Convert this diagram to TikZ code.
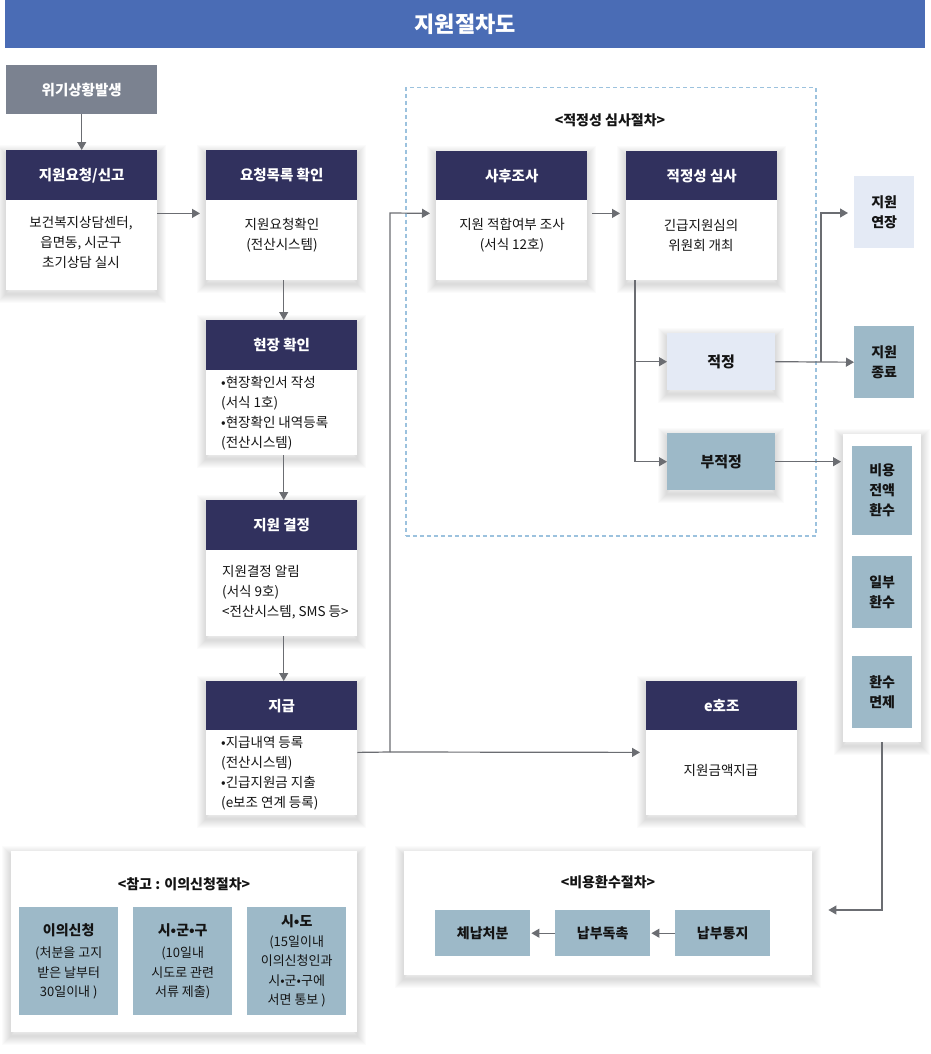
\documentclass[tikz,border=0pt]{standalone}
\usepackage{fontspec}
\setmainfont{Noto Sans CJK KR}
\usetikzlibrary{arrows.meta,calc}
\definecolor{titleblue}{HTML}{4A6CB5}
\definecolor{navy}{HTML}{31315E}
\definecolor{crisisgray}{HTML}{7B8290}
\definecolor{steel}{HTML}{9DB9C8}
\definecolor{pale}{HTML}{E4EAF5}
\definecolor{dashblue}{HTML}{9CC2DE}
\definecolor{linegray}{HTML}{6B6D72}
\definecolor{txt}{HTML}{141414}
\tikzset{
  x=1pt, y=-1pt,
  shl/.style={preaction={draw=black, draw opacity=0.016, line width=#1, transform canvas={yshift=-4pt}}},
  shd/.style={shl=18pt, shl=16pt, shl=14pt, shl=12pt, shl=10pt, shl=8pt, shl=6pt, shl=4pt, shl=2pt},
  hdr/.style={anchor=north west, fill=navy, text=white, inner sep=0pt,
    font=\fontsize{14.5}{17}\selectfont\bfseries, minimum width=151pt, minimum height=50pt},
  bodybox/.style={anchor=north west, fill=white, inner sep=0pt, minimum width=151pt, shd},
  btxt/.style={text=txt, inner sep=0pt, font=\fontsize{13.5}{20}\selectfont},
  lefttxt/.style={btxt, anchor=west, align=left},
  ctxt/.style={btxt, align=center},
  sbox/.style={anchor=north west, fill=steel, inner sep=0pt, text=txt, align=center,
    font=\fontsize{14}{20}\selectfont\bfseries},
  pbox/.style={sbox, fill=pale},
  panel/.style={anchor=north west, fill=white, inner sep=0pt, shd},
  ptitle/.style={text=txt, inner sep=0pt, font=\fontsize{14}{17}\selectfont\bfseries},
  conn/.style={draw=linegray, line width=1.2pt, -{Triangle[length=8pt,width=9pt]}},
  plain/.style={draw=linegray, line width=1.2pt},
}
\begin{document}
\begin{tikzpicture}
\useasboundingbox (0,0) rectangle (930,1054);
% title
\node[anchor=north west, fill=titleblue, minimum width=920pt, minimum height=48pt, inner sep=0pt,
  text=white, font=\fontsize{22}{26}\selectfont\bfseries] (title) at (5,0) {지원절차도};

% dashed frame
\node[anchor=north west, draw=dashblue, dash pattern=on 4pt off 3pt, line width=1.5pt, minimum width=410pt, minimum height=448pt, inner sep=0pt] (frame) at (405,87) {};
\node[ptitle] (frametitle) at (610,120) {<적정성 심사절차>};

% crisis
\node[anchor=north west, fill=crisisgray, text=white, inner sep=0pt, minimum width=151pt, minimum height=49pt,
  font=\fontsize{14.5}{17}\selectfont\bfseries] (crisis) at (6,65) {위기상황발생};

% B1
\node[bodybox, minimum height=140pt] (b1) at (6,150) {};
\node[hdr] (h1) at (6,150) {지원요청/신고};
\node[ctxt] (t1) at (81,242) {보건복지상담센터,\\읍면동, 시군구\\초기상담 실시};
% B2
\node[bodybox, minimum height=130pt] (b2) at (206,150) {};
\node[hdr] (h2) at (206,150) {요청목록 확인};
\node[ctxt] (t2) at (282,235) {지원요청확인\\(전산시스템)};
% B3
\node[bodybox, minimum height=135pt] (b3) at (206,320) {};
\node[hdr] (h3) at (206,320) {현장 확인};
\node[lefttxt] (t3) at (221,413) {•현장확인서 작성\\(서식 1호)\\•현장확인 내역등록\\(전산시스템)};
% B4
\node[bodybox, minimum height=136pt] (b4) at (206,500) {};
\node[hdr] (h4) at (206,500) {지원 결정};
\node[lefttxt] (t4) at (222,592) {지원결정 알림\\(서식 9호)\\<전산시스템, SMS 등>};
% B5
\node[bodybox, minimum height=134pt] (b5) at (206,681) {};
\node[hdr, minimum height=49pt] (h5) at (206,681) {지급};
\node[lefttxt] (t5) at (221,773) {•지급내역 등록\\(전산시스템)\\•긴급지원금 지출\\(e보조 연계 등록)};
% B6
\node[bodybox, minimum height=129pt] (b6) at (436,151) {};
\node[hdr, minimum height=49pt] (h6) at (436,151) {사후조사};
\node[ctxt] (t6) at (512,235) {지원 적합여부 조사\\(서식 12호)};
% B7
\node[bodybox, minimum height=129pt] (b7) at (626,151) {};
\node[hdr, minimum height=49pt] (h7) at (626,151) {적정성 심사};
\node[ctxt] (t7) at (701,235) {긴급지원심의\\위원회 개최};
% e hojo
\node[bodybox, minimum height=134pt] (b8) at (646,681) {};
\node[hdr, minimum height=49pt] (h8) at (646,681) {e호조};
\node[ctxt] (t8) at (721,770) {지원금액지급};

% decisions
\node[pbox, minimum width=108pt, minimum height=57pt, font=\fontsize{15}{20}\selectfont\bfseries, shd] (ok) at (667,333) {적정};
\node[sbox, minimum width=108pt, minimum height=57pt, font=\fontsize{15}{20}\selectfont\bfseries, shd] (nok) at (667,433) {부적정};
\node[pbox, minimum width=60pt, minimum height=72pt] (ext) at (854,176) {지원\\연장};
\node[sbox, minimum width=60pt, minimum height=72pt] (endn) at (854,326) {지원\\종료};

% refund container
\node[panel, minimum width=78pt, minimum height=308pt] (cont) at (843,434) {};
\node[sbox, minimum width=60pt, minimum height=89pt] (r1) at (852,446) {비용\\전액\\환수};
\node[sbox, minimum width=60pt, minimum height=72pt] (r2) at (852,556) {일부\\환수};
\node[sbox, minimum width=60pt, minimum height=72pt] (r3) at (852,656) {환수\\면제};

% refund procedure panel
\node[panel, minimum width=408pt, minimum height=124pt] (rp) at (404,851) {};
\node[ptitle] (rptitle) at (608,882) {<비용환수절차>};
\node[sbox, minimum width=95pt, minimum height=46pt] (p1) at (435,910) {체납처분};
\node[sbox, minimum width=95pt, minimum height=46pt] (p2) at (555,910) {납부독촉};
\node[sbox, minimum width=95pt, minimum height=46pt] (p3) at (675,910) {납부통지};

% objection panel
\node[panel, minimum width=346pt, minimum height=181pt] (op) at (11,851) {};
\node[ptitle] (optitle) at (184,884) {<참고 : 이의신청절차>};
\node[sbox, minimum width=99pt, minimum height=108pt] (o1) at (19,907) {};
\node[sbox, minimum width=99pt, minimum height=108pt] (o2) at (133,907) {};
\node[sbox, minimum width=99pt, minimum height=108pt] (o3) at (247,907) {};
\node[ctxt, font=\fontsize{13}{19.5}\selectfont] (ot1) at (o1.center) {{\bfseries\fontsize{14}{19.5}\selectfont 이의신청}\\[3pt](처분을 고지\\받은 날부터\\30일이내 )};
\node[ctxt, font=\fontsize{13}{19.5}\selectfont] (ot2) at (o2.center) {{\bfseries\fontsize{14}{19.5}\selectfont 시•군•구}\\[3pt](10일내\\시도로 관련\\서류 제출)};
\node[ctxt, font=\fontsize{13}{19.5}\selectfont] (ot3) at (o3.center) {{\bfseries\fontsize{14}{19.5}\selectfont 시•도}\\(15일이내\\이의신청인과\\시•군•구에\\서면 통보 )};

% connectors
\draw[conn] (crisis.south) -- (h1.north);
\draw[conn, shorten >=6pt] ([yshift=-13pt]h1.south east) -- ([yshift=-13pt]h2.south west);
\draw[conn] ([xshift=2pt]b2.south) -- ([xshift=2pt]h3.north);
\draw[conn] ([xshift=2pt]b3.south) -- ([xshift=2pt]h4.north);
\draw[conn] ([xshift=2pt]b4.south) -- ([xshift=2pt]h5.north);
\coordinate (split) at (390,752);
\draw[plain] ([yshift=-22pt]h5.south east) -- (split);
\draw[conn, shorten >=6pt] (split) -- (split |- 0,213) -- ([yshift=-13pt]h6.south west);
\draw[conn, shorten >=6pt] (split) -- ([yshift=-22pt]h8.south west);
\draw[conn, shorten <=5pt, shorten >=6pt] ([yshift=-13pt]h6.south east) -- ([yshift=-13pt]h7.south west);
\coordinate (dtop) at ([xshift=9pt]b7.south west);
\draw[conn] (dtop) -- (dtop |- nok.west) -- (nok.west);
\draw[conn] (dtop |- ok.west) -- (ok.west);
\draw[conn] (ok.east) -- (endn.west);
\coordinate (jn) at (821,362);
\draw[conn, shorten >=6pt] (jn) -- (jn |- 0,213) -- (ext.west |- 0,213);
\draw[conn, shorten >=2pt] (nok.east) -- (nok.east -| cont.west);
\draw[conn, shorten >=16pt] (cont.south -| 882,0) -- (882,910) -- (rp.east |- 0,910);
\draw[conn, shorten >=1pt] (p3.west) -- (p2.east);
\draw[conn, shorten >=1pt] (p2.west) -- (p1.east);
\end{tikzpicture}
\end{document}
